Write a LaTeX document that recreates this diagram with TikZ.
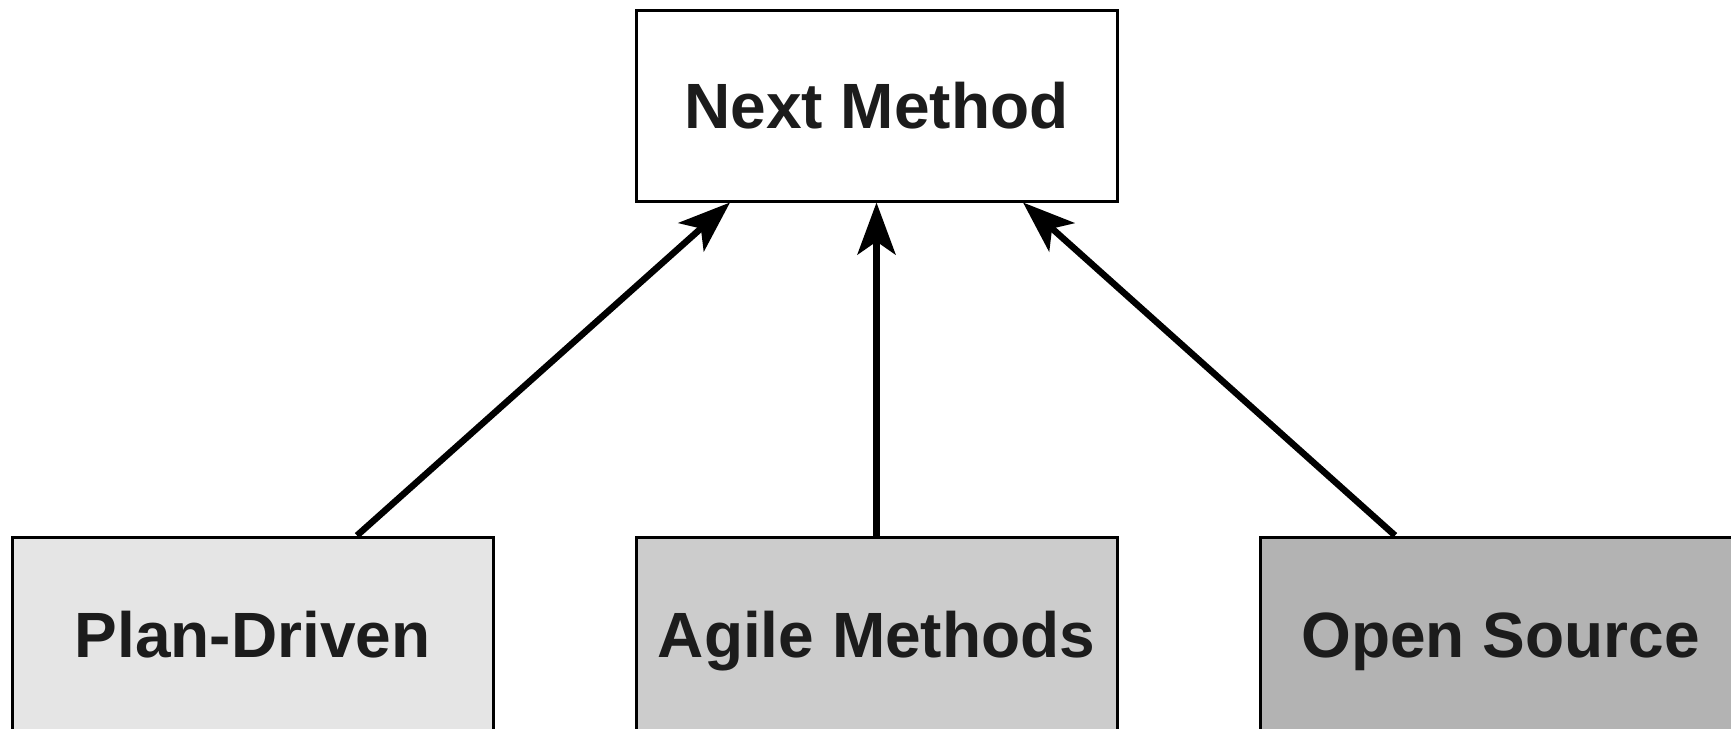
\documentclass[tikz,border=0pt]{standalone}
\usepackage{fontspec}
\setmainfont{Liberation Sans}
\usetikzlibrary{arrows.meta,calc}
\definecolor{inkgray}{HTML}{1C1C1C}
\definecolor{planfill}{HTML}{E5E5E5}
\definecolor{agilefill}{HTML}{CCCCCC}
\definecolor{openfill}{HTML}{B3B3B3}
\begin{document}
\begin{tikzpicture}[x=1pt,y=-1pt,
  methodbox/.style={draw=black, line width=3pt, rectangle,
    minimum width=481pt, minimum height=191pt, inner sep=0pt,
    text height=46pt, text depth=0pt,
    text=inkgray, font=\fontsize{64}{64}\selectfont\bfseries},
  basebox/.style={methodbox, minimum height=194pt},
  flow/.style={line width=6.5pt, draw=black,
    -{Stealth[length=52pt, width=38pt, inset=13pt]}}]
  \useasboundingbox (0,0) rectangle (1731,728);
  \fill[white] (0,0) rectangle (1731,728);

  % target method at the top
  \node[methodbox, fill=white] (next) at (876.5,105.5) {Next Method};

  % the three source families along the bottom
  \node[basebox, fill=planfill]  (plan)  at (252.5,634) {Plan-Driven};
  \node[basebox, fill=agilefill] (agile) at (876.5,634) {Agile Methods};
  \node[basebox, fill=openfill]  (open)  at (1500.5,634) {Open Source};

  % contributions flowing up into the next method
  \draw[flow] ($(plan.north)+(104.5,0)$) -- ($(next.south)+(-146.5,0)$);
  \draw[flow] (agile.north) -- (next.south);
  \draw[flow] ($(open.north)+(-105.5,0)$) -- ($(next.south)+(146.5,0)$);
\end{tikzpicture}
\end{document}
